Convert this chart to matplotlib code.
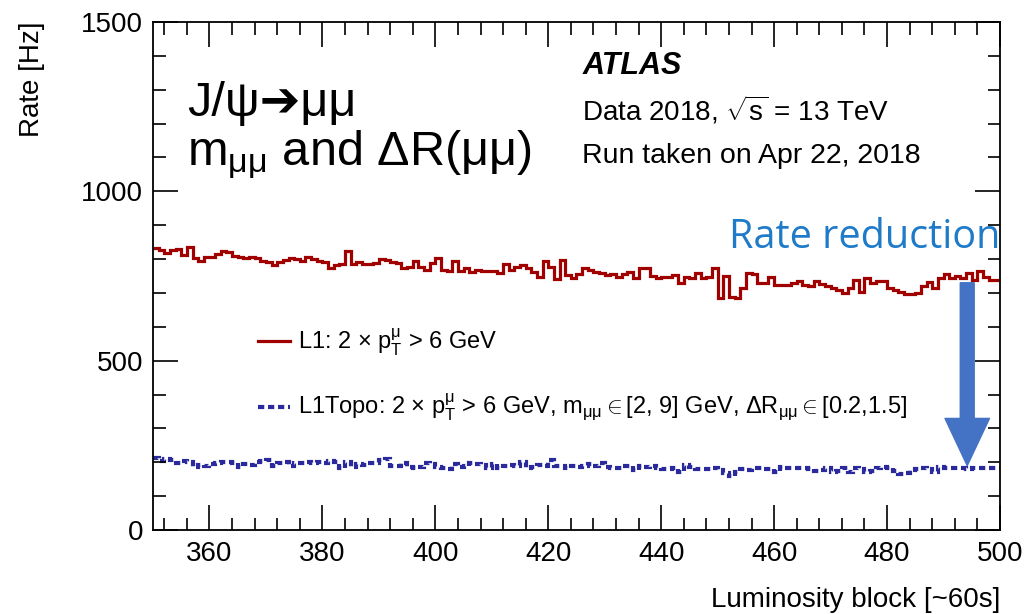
import numpy as np
import matplotlib.pyplot as plt
from matplotlib.ticker import MultipleLocator

# luminosity blocks 350..499, one bin each
lb_start = 350
l1_rate = [
    832, 827, 817, 827, 830, 812, 835, 802, 795, 807, 807, 814, 825, 820, 810, 805, 802, 807, 804,
    795, 790, 783, 790, 797, 802, 800, 795, 807, 800, 795, 790, 773, 783, 785, 825, 785, 790, 785,
    784, 787, 800, 797, 790, 787, 773, 778, 793, 778, 768, 787, 802, 768, 765, 793, 765, 775, 761,
    768, 766, 766, 765, 758, 785, 768, 778, 781, 773, 763, 748, 794, 778, 741, 797, 753, 743,
    755, 773, 768, 763, 758, 753, 755, 748, 755, 763, 743, 773, 773, 751, 743, 748, 748, 753, 728,
    748, 745, 758, 743, 748, 773, 684, 751, 689, 686, 714, 758, 755, 728, 728, 748, 724, 724,
    724, 728, 734, 724, 719, 734, 726, 719, 716, 709, 699, 714, 738, 704, 743, 728, 736, 734, 714,
    709, 702, 696, 696, 699, 719, 732, 714, 743, 755, 745, 751, 743, 758, 738, 765, 748, 738, 738,
]
l1topo_rate = [
    212, 204, 210, 207, 197, 204, 200, 187, 192, 190, 194, 197, 202, 200, 197, 187, 194, 192, 200,
    204, 207, 190, 197, 200, 190, 197, 197, 200, 197, 200, 197, 204, 200, 184, 200, 187, 194, 192,
    197, 197, 207, 210, 190, 190, 197, 187, 182, 187, 197, 194, 187, 182, 180, 194, 187, 190, 197,
    194, 192, 184, 194, 184, 190, 192, 190, 202, 182, 187, 192, 190, 207, 190, 190, 182, 190,
    187, 190, 194, 190, 197, 187, 184, 184, 190, 190, 177, 190, 187, 190, 184, 180, 180, 184, 172,
    192, 187, 180, 180, 180, 182, 177, 167, 158, 172, 180, 177, 182, 184, 180, 180, 172, 187,
    184, 182, 182, 184, 180, 174, 177, 182, 172, 174, 184, 172, 184, 180, 170, 174, 182, 187, 182,
    174, 165, 167, 177, 180, 182, 180, 172, 187, 184, 182, 184, 182, 180, 184, 182, 184, 182, 182,
]
x_ticks = [360, 380, 400, 420, 440, 460, 480, 500]
y_ticks = [0, 500, 1000, 1500]

plt.rcParams['font.family'] = ['Liberation Sans', 'DejaVu Sans']
plt.rcParams['mathtext.fontset'] = 'custom'
plt.rcParams['mathtext.rm'] = 'Liberation Sans'
plt.rcParams['mathtext.it'] = 'Liberation Sans'

fig = plt.figure(figsize=(10.29, 6.14), dpi=100)
ax = fig.add_axes([0.1487, 0.1368, 0.8231, 0.8274])

edges = np.arange(lb_start, lb_start + len(l1_rate) + 1)
red = '#a00000'
blue = '#2a2a9c'
dash = (0, (1.5, 0.9))
ax.stairs(l1_rate, edges, color=red, linewidth=2.3, baseline=None)
ax.stairs(l1topo_rate, edges, color=blue, linewidth=3.0, baseline=None, linestyle=dash)

ax.set_xlim(350, 500)
ax.set_ylim(0, 1500)
ax.set_xticks(x_ticks)
ax.set_yticks(y_ticks)
ax.xaxis.set_minor_locator(MultipleLocator(4))
ax.yaxis.set_minor_locator(MultipleLocator(100))
ax.tick_params(which='both', direction='in', top=True, right=True, labelsize=20, width=1.2)
ax.tick_params(which='major', length=18)
ax.tick_params(which='minor', length=9)
ax.tick_params(axis='x', pad=8)
ax.tick_params(axis='y', pad=7)
for s in ax.spines.values():
    s.set_linewidth(1.3)

ax.set_ylabel('Rate [Hz]', fontsize=20, loc='top')
ax.yaxis.set_label_coords(-0.128, 1.0)
ax.set_xlabel('Luminosity block [~60s]', fontsize=20, loc='right')
ax.xaxis.set_label_coords(1.0, -0.112)

# legend drawn by hand in axes coords
ax.plot([0.124, 0.162], [0.372, 0.372], transform=ax.transAxes, color=red, lw=2.3)
ax.text(0.171, 0.356, r'L1: 2 $\times$ p$_{\mathrm{T}}^{\mu}$ > 6 GeV', transform=ax.transAxes,
        fontsize=17, va='baseline')
ax.plot([0.124, 0.162], [0.242, 0.242], transform=ax.transAxes, color=blue, lw=3.0,
        linestyle=dash)
ax.text(0.171, 0.228,
        r'L1Topo: 2 $\times$ p$_{\mathrm{T}}^{\mu}$ > 6 GeV, m$_{\mu\mu}$$\in$[2, 9] GeV, '
        r'$\Delta$R$_{\mu\mu}$$\in$[0.2,1.5]',
        transform=ax.transAxes, fontsize=17, va='baseline')

ax.text(0.507, 0.898, 'ATLAS', transform=ax.transAxes, fontsize=22, fontweight='bold',
        fontstyle='italic', va='baseline')
ax.text(0.507, 0.807, r'Data 2018, $\sqrt{\mathrm{s}}$ = 13 TeV', transform=ax.transAxes,
        fontsize=20, va='baseline')
ax.text(0.507, 0.722, 'Run taken on Apr 22, 2018', transform=ax.transAxes,
        fontsize=20.5, va='baseline')

ax.text(0.040, 0.815, 'J/ψ➔μμ', transform=ax.transAxes,
        fontsize=35, va='baseline')
ax.text(0.040, 0.7185, r'm$_{\mu\mu}$ and $\Delta$R($\mu\mu$)', transform=ax.transAxes,
        fontsize=35, va='baseline')

ax.text(1.0, 0.575, 'Rate reduction', transform=ax.transAxes, fontsize=28.5,
        color='#1f7bc8', ha='right', va='center', family=['Open Sans', 'DejaVu Sans'])

ax.annotate('', xy=(494.2, 190), xytext=(494.2, 730),
            arrowprops=dict(facecolor='#4472c4', edgecolor='#4472c4', width=10,
                            headwidth=32, headlength=34))

fig.savefig('out.png', dpi=100)
